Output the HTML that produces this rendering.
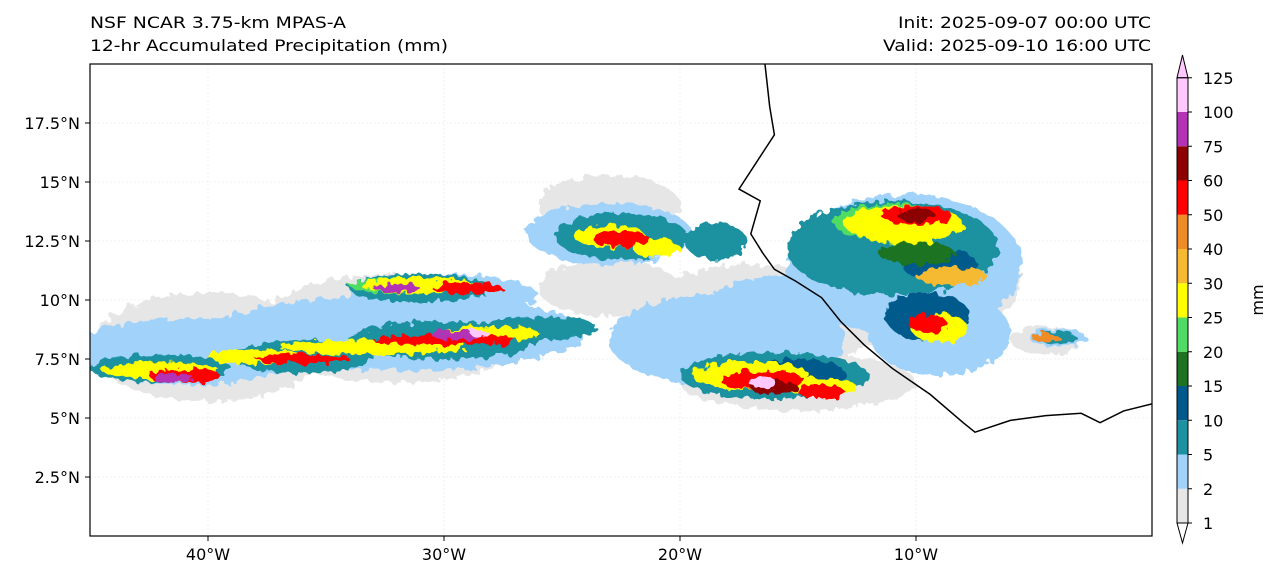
<!DOCTYPE html>
<html><head><meta charset="utf-8"><style>
body{margin:0;background:#fff;font-family:"DejaVu Sans","Liberation Sans",sans-serif}
svg text{font-family:"DejaVu Sans","Liberation Sans",sans-serif;font-size:16px;fill:#000}
</style></head><body>
<svg id="c" width="1280" height="580" xmlns="http://www.w3.org/2000/svg">
<text x="90" y="28" textLength="256" lengthAdjust="spacingAndGlyphs">NSF NCAR 3.75-km MPAS-A</text>
<text x="90" y="51" textLength="358" lengthAdjust="spacingAndGlyphs">12-hr Accumulated Precipitation (mm)</text>
<text x="898" y="28" textLength="253" lengthAdjust="spacingAndGlyphs">Init: 2025-09-07 00:00 UTC</text>
<text x="883" y="51" textLength="268" lengthAdjust="spacingAndGlyphs">Valid: 2025-09-10 16:00 UTC</text>
<defs><clipPath id="clip"><rect x="90" y="64" width="1062" height="472"/></clipPath>
<filter id="rough"><feTurbulence type="fractalNoise" baseFrequency="0.12" numOctaves="2" seed="3" result="n"/><feDisplacementMap in="SourceGraphic" in2="n" scale="12"/></filter></defs>
<g id="grid"></g>
<g id="precip" clip-path="url(#clip)" filter="url(#rough)"></g>
<g id="coast" clip-path="url(#clip)"></g>
<rect x="90" y="64" width="1062" height="472" fill="none" stroke="#000" stroke-width="1.2"/>
<g id="axes"></g>
<g id="cbar"></g>
<text transform="translate(1263,300) rotate(-90)" text-anchor="middle">mm</text>
</svg>
<script>
const levels=[1,2,5,10,15,20,25,30,40,50,60,75,100,125];
const colors=["#e6e6e6","#a0d2fa","#1e91a0","#005a8c","#1e7323","#50dc64","#ffff00","#f5b932","#f08c28","#ff0000","#8c0000","#b432b4","#ffc8ff"];
const lonTicks=[-40,-30,-20,-10];
const lonLabels=["40°W","30°W","20°W","10°W"];
const latTicks=[2.5,5,7.5,10,12.5,15,17.5];
const latLabels=["2.5°N","5°N","7.5°N","10°N","12.5°N","15°N","17.5°N"];
// blobs: lon, lat, rx(deg), ry(deg), colour index
const blobLon=[-40,-32,-23,-17,-23,-10.5,-4.5,-15,
 -41,-32,-30,-23,-18,-16,-10.5,-9,-4,
 -42,-36,-30,-26,-31,-22.5,-18.5,-16,-11,-9.5,-9,-4,
 -11,-10,-31.5,-15,
 -42,-38,-33,-28,-31,-23,-21,-17,-14,-10.5,-9,-8.5,-4.5,
 -41,-36,-30,-29,-22.5,-16.5,-14,-10,-9.5,
 -41.5,-29.5,-32,-16,-10,
 -28.5,-16.5];
const blobLat=[8,8.8,10.5,9,14,11,8.3,6.5,
 7.8,8.6,10.2,12.8,8.3,9.5,11.5,8.6,8.4,
 7.1,7.6,8.3,8.8,10.5,12.7,12.5,6.8,12.2,9.3,11.5,8.4,
 13.3,12,10.6,6.9,
 7,7.6,8,8.6,10.6,12.7,12.2,6.8,6.3,13.2,8.8,11,8.4,
 6.8,7.5,8.3,10.5,12.6,6.6,6.1,13.6,9,
 6.7,8.5,10.5,6.3,13.6,
 8.6,6.5];
const blobRx=[5,6,3,5,3,5,1.5,5,
 5,8,4,3.5,5,3,5,3,1.2,
 3,3,4,2.5,3,2.8,1.3,4,4.5,1.8,1.6,0.8,
 2.5,1.6,2.5,2,
 2.5,2,4,2,2.5,1.5,1,2.5,1.5,2.5,1.2,1.5,0.6,
 1.5,2,3,1.5,1.2,1.8,1,1.5,0.8,
 0.9,1,1,1,0.8,
 0.4,0.6];
const blobRy=[2.3,2.3,1.2,2.5,1.3,3,0.6,1.2,
 1.4,1.6,0.9,1.3,2,1.5,3,1.8,0.4,
 0.6,0.7,0.8,0.5,0.6,1,0.8,1,2,1,0.7,0.3,
 0.8,0.5,0.35,0.6,
 0.35,0.3,0.3,0.3,0.35,0.5,0.4,0.6,0.4,0.8,0.6,0.4,0.2,
 0.3,0.2,0.25,0.25,0.35,0.4,0.3,0.4,0.4,
 0.2,0.2,0.2,0.3,0.3,
 0.15,0.2];
const blobC=[0,0,0,0,0,0,0,0,
 1,1,1,1,1,1,1,1,1,
 2,2,2,2,2,2,2,2,2,3,3,2,
 5,4,5,3,
 6,6,6,6,6,6,6,6,6,6,6,7,8,
 9,9,9,9,9,9,9,9,9,
 11,11,11,10,10,
 12,12];
const coastLon=[-16.4,-16.2,-16,-17.5,-16.6,-17,-16.5,-16,-15.1,-14,-13.2,-12.2,-11,-9.4,-8,-7.5,-6,-4.5,-3,-2.2,-1.2,0];
const coastLat=[20,18.2,17,14.7,14.2,12.8,12,11.3,10.8,10.1,9.1,8.1,7.1,6,4.8,4.4,4.9,5.1,5.2,4.8,5.3,5.6];
const X=l=>90+(l+45)*23.6, Y=a=>536-a*23.6;
const NS="http://www.w3.org/2000/svg";
function mk(t,at,p){const e=document.createElementNS(NS,t);for(const k in at)e.setAttribute(k,at[k]);p.appendChild(e);return e;}
const grid=document.getElementById('grid'),axes=document.getElementById('axes');
lonTicks.forEach((l,i)=>{
 const g=mk('line',{x1:X(l),x2:X(l),y1:64,y2:536,stroke:'#e4e4e4','stroke-width':0.6,'stroke-dasharray':'2,2'},grid);
 
 
 const t=mk('line',{x1:X(l),x2:X(l),y1:536,y2:541,stroke:'#000'},axes);
 
 
 const tx=mk('text',{x:X(l),y:560,'text-anchor':'middle'},axes);tx.textContent=lonLabels[i];
 
 
});
latTicks.forEach((a,i)=>{
 const g=mk('line',{x1:90,x2:1152,y1:Y(a),y2:Y(a),stroke:'#e4e4e4','stroke-width':0.6,'stroke-dasharray':'2,2'},grid);
 
 
 const t=mk('line',{x1:85,x2:90,y1:Y(a),y2:Y(a),stroke:'#000'},axes);
 
 
 const tx=mk('text',{x:80,y:Y(a)+6,'text-anchor':'end'},axes);tx.textContent=latLabels[i];
 
 
});
const pr=document.getElementById('precip');
blobLon.forEach((l,i)=>{
 const e=mk('ellipse',{cx:X(l),cy:Y(blobLat[i]),rx:blobRx[i]*23.6,ry:blobRy[i]*23.6,fill:colors[blobC[i]]},pr);
 
 
});
const co=document.getElementById('coast');
const cl=mk('polyline',{points:coastLon.map((l,i)=>X(l)+','+Y(coastLat[i])).join(' '),fill:'none',stroke:'#000','stroke-width':1.5},co);


const cb=document.getElementById('cbar');
const bx=1177,bw=11,ly=v=>{const i=levels.indexOf(v);return 523-i*34.25;};
for(let i=0;i<colors.length;i++){
 const r=mk('rect',{x:bx,y:ly(levels[i+1]),width:bw,height:34.25,fill:colors[i]},cb);
 
 
}
mk('polygon',{points:`${bx},${ly(125)} ${bx+bw/2},55 ${bx+bw},${ly(125)}`,fill:colors[12],stroke:'#000'},cb);
mk('polygon',{points:`${bx},523 ${bx+bw/2},543 ${bx+bw},523`,fill:'#fff',stroke:'#000'},cb);
mk('rect',{x:bx,y:ly(125),width:bw,height:523-ly(125),fill:'none',stroke:'#000'},cb);
levels.forEach(v=>{
 mk('line',{x1:bx+bw,x2:bx+bw+4,y1:ly(v),y2:ly(v),stroke:'#000'},cb);
 const t=mk('text',{x:1203,y:ly(v)+6},cb);t.textContent=v;
 
 
});
</script>
</body></html>
